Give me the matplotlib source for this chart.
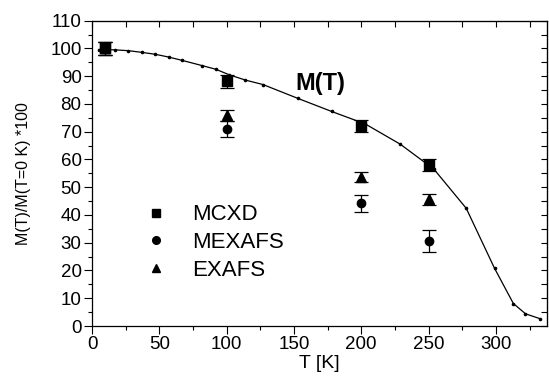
import numpy as np
import matplotlib
matplotlib.use("Agg")
from matplotlib import pyplot as plt
from matplotlib.ticker import MultipleLocator

# データ
T_curve = [5, 17, 27, 37, 47, 57, 67, 82, 92, 102, 114, 127, 153, 178, 203,
           229, 254, 278, 299, 313, 322, 333]
M_curve = [99.6, 99.5, 99.2, 98.6, 97.9, 96.9, 95.7, 93.8, 92.5, 90.5, 88.6,
           87.0, 82.0, 77.3, 72.8, 65.5, 56.5, 42.4, 20.8, 8.1, 4.4, 2.6]

T_mcxd = [10, 100, 200, 250]
M_mcxd = [100, 88.2, 72.1, 58.0]
E_mcxd = [2.2, 2.3, 2.2, 2.1]

T_mexafs = [10, 100, 200, 250]
M_mexafs = [100, 71.0, 44.2, 30.5]
E_mexafs = [2.2, 3.0, 3.0, 4.0]

T_exafs = [10, 100, 200, 250]
M_exafs = [100, 76.0, 53.7, 45.6]
E_exafs = [2.2, 2.0, 1.9, 2.0]

plt.rcParams['font.family'] = ['Liberation Sans', 'DejaVu Sans']
plt.rcParams['font.size'] = 13

fig = plt.figure(figsize=(5.49, 3.8), dpi=100)
ax = fig.add_axes([0.1676, 0.1421, 0.8288, 0.8034])

# 曲線
ax.plot(T_curve, M_curve, '-', color='black', lw=0.9, marker='o', ms=1.6)

ebkw = dict(ls='none', color='black', ecolor='black', elinewidth=0.9,
            capsize=5.2, capthick=0.9)
ax.errorbar(T_mcxd, M_mcxd, yerr=E_mcxd, marker='s', ms=6.5, label='MCXD', **ebkw)
ax.plot(T_mcxd[0], M_mcxd[0], 's', ms=6.5, color='#2e2e8c')
ax.errorbar(T_mexafs, M_mexafs, yerr=E_mexafs, marker='o', ms=6, label='MEXAFS', **ebkw)
ax.errorbar(T_exafs, M_exafs, yerr=E_exafs, marker='^', ms=6.5, label='EXAFS', **ebkw)

ax.text(151, 87.5, 'M(T)', fontsize=17, fontweight='bold', va='center', ha='left')

# 凡例
h, l = ax.get_legend_handles_labels()
h = [hh[0] for hh in h]
leg = ax.legend(h, l, loc='upper left', bbox_to_anchor=(0.118, 0.398),
                frameon=False, fontsize=16, handlelength=0.9,
                handletextpad=1.2, labelspacing=0.3, borderpad=0, borderaxespad=0)
for lh in leg.legend_handles:
    lh.set_markersize(5.5)

ax.set_xlim(0, 338)
ax.set_ylim(0, 110)
ax.xaxis.set_major_locator(MultipleLocator(50))
ax.xaxis.set_minor_locator(MultipleLocator(25))
ax.yaxis.set_major_locator(MultipleLocator(10))
ax.yaxis.set_minor_locator(MultipleLocator(5))
ax.tick_params(which='major', direction='out', length=5.5, width=0.8, labelsize=13.5, pad=2)
ax.tick_params(which='minor', direction='out', length=3, width=0.8)

# 上と右の目盛り（内向き）
top = ax.secondary_xaxis('top')
top.xaxis.set_major_locator(MultipleLocator(25))
top.tick_params(direction='in', length=4, width=0.8, labeltop=False)
right = ax.secondary_yaxis('right')
right.yaxis.set_major_locator(MultipleLocator(5))
right.tick_params(direction='in', length=4, width=0.8, labelright=False)

for s in ax.spines.values():
    s.set_linewidth(0.9)

ax.set_xlabel('T [K]', fontsize=14, labelpad=1)
ax.set_ylabel('M(T)/M(T=0 K) *100', fontsize=11.5, labelpad=14)

fig.savefig('out.png', dpi=100)
